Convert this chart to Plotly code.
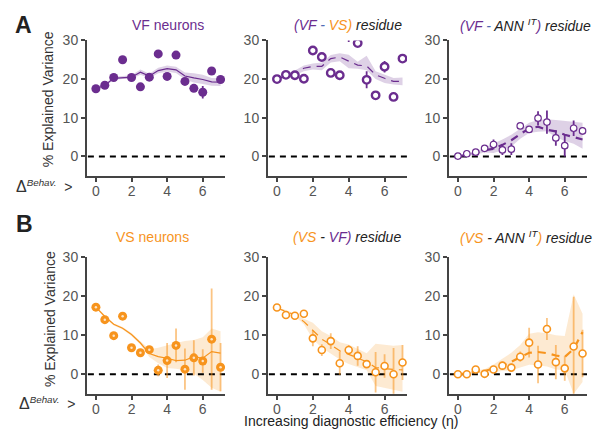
import plotly.graph_objects as go

# ---------------- data ----------------
eta = [0, 0.5, 1, 1.5, 2, 2.5, 3, 3.5, 4, 4.5, 5, 5.5, 6, 6.5, 7]
x_ticks = [0, 2, 4, 6]
y_ticks = [0, 10, 20, 30]

# Row A
vf_neu = [17.5, 18.4, 20.4, 25.0, 20.4, 18.0, 20.5, 26.5, 20.7, 26.2, 19.4, 17.6, 16.6, 22.1, 19.9]
vf_neu_err = [0.4, 0.4, 0.4, 0.4, 0.4, 0.4, 0.4, 0.4, 0.4, 0.8, 0.8, 0.8, 1.6, 0.5, 0.5]
vf_neu_fit = [17.5, 18.4, 20.2, 20.4, 20.5, 21.8, 20.8, 22.2, 22.7, 22.4, 20.8, 20.3, 19.9, 19.3, 19.2]
vf_neu_lo = [17.2, 18.1, 19.8, 20.0, 20.0, 21.1, 20.2, 21.5, 21.9, 21.6, 19.9, 19.1, 18.7, 18.3, 18.2]
vf_neu_hi = [17.8, 18.7, 20.6, 20.8, 21.0, 22.5, 21.4, 22.9, 23.5, 23.2, 21.7, 21.5, 21.1, 20.3, 20.2]

vf_res = [20.0, 21.1, 21.0, 20.1, 27.4, 25.7, 21.6, 21.0, 32.0, 29.3, 19.8, 15.8, 23.2, 15.4, 25.3]
vf_res_err = [0.4, 0.4, 0.4, 0.4, 0.5, 1.0, 0.5, 0.5, 2.4, 0.5, 2.2, 0.5, 1.5, 0.5, 0.5]
vf_res_fit = [20.0, 20.8, 21.6, 22.8, 23.3, 23.3, 25.3, 25.7, 24.6, 23.6, 23.4, 21.1, 20.2, 19.4, 19.4]
vf_res_lo = [19.6, 20.3, 21.0, 22.0, 22.5, 22.3, 24.3, 24.6, 22.8, 22.7, 22.3, 20.0, 19.0, 18.6, 18.4]
vf_res_hi = [20.4, 21.3, 22.2, 23.5, 24.0, 24.3, 26.2, 26.7, 26.3, 24.5, 26.0, 22.0, 21.2, 20.3, 20.4]

vf_ann = [0.1, 0.7, 1.1, 2.1, 3.1, 1.7, 1.9, 7.9, 7.0, 9.9, 8.9, 4.8, 2.8, 7.3, 6.6]
vf_ann_err = [0.2, 0.3, 0.3, 0.3, 1.3, 1.3, 1.5, 0.4, 0.6, 1.8, 3.0, 2.0, 2.8, 2.0, 1.0]
vf_ann_fit = [0.0, 0.4, 0.9, 1.6, 2.0, 3.0, 4.2, 5.8, 7.2, 7.7, 6.9, 6.5, 5.6, 5.0, 4.4]
vf_ann_lo = [0.0, 0.2, 0.5, 1.0, 0.9, 1.6, 2.6, 4.6, 6.1, 6.4, 6.5, 5.0, 4.0, 3.3, 2.0]
vf_ann_hi = [0.1, 0.6, 1.3, 2.3, 3.2, 4.4, 5.6, 7.2, 8.7, 9.4, 9.6, 9.4, 9.2, 8.9, 8.7]

# Row B
vs_neu = [17.2, 14.0, 9.9, 14.9, 6.8, 5.5, 6.3, 1.0, 3.5, 7.4, 1.3, 4.2, 3.4, 9.0, 1.8]
vs_neu_err = [0.3, 0.3, 0.3, 0.3, 0.3, 0.3, 0.5, 1.5, 4.5, 4.3, 5.3, 4.5, 3.0, 13.0, 6.2]
vs_neu_fit = [17.2, 14.8, 12.8, 11.8, 10.2, 8.0, 5.3, 4.5, 4.1, 3.5, 3.6, 4.5, 4.1, 5.8, 5.4]
vs_neu_lo = [16.9, 14.5, 12.5, 11.5, 9.8, 7.6, 4.4, 2.8, 1.6, 1.4, 1.0, 0.2, -1.5, -3.5, -4.5]
vs_neu_hi = [17.5, 15.1, 13.1, 12.1, 10.6, 8.6, 6.4, 6.8, 7.5, 8.0, 8.5, 8.8, 9.5, 11.7, 11.0]

vs_res = [17.1, 15.2, 15.0, 15.5, 9.2, 6.2, 8.5, 2.8, 6.2, 4.7, 2.6, 0.5, 2.1, 0.0, 3.0]
vs_res_err = [0.3, 0.3, 0.3, 0.3, 2.0, 1.5, 2.0, 3.0, 1.3, 2.5, 1.0, 5.2, 3.0, 6.7, 4.5]
vs_res_fit = [17.0, 16.2, 15.2, 13.5, 11.2, 9.0, 7.6, 6.0, 5.1, 4.2, 3.2, 1.7, 1.4, 1.2, 1.1]
vs_res_lo = [16.8, 15.9, 14.9, 12.8, 9.0, 6.8, 5.2, 3.8, 2.6, 1.8, 1.0, -3.0, -3.5, -4.0, -4.5]
vs_res_hi = [17.2, 16.5, 15.5, 14.2, 13.2, 11.0, 9.8, 8.2, 7.6, 6.6, 5.4, 7.8, 7.5, 7.3, 7.5]

vs_ann = [0.0, 0.0, 1.2, 0.1, 1.2, 2.2, 1.7, 4.5, 8.1, 2.5, 11.6, 3.1, 1.5, 7.1, 5.3]
vs_ann_err = [0.2, 0.2, 0.5, 0.3, 0.5, 1.0, 1.0, 1.3, 3.8, 4.8, 2.8, 4.4, 3.2, 12.8, 6.1]
vs_ann_fit = [0.0, 0.2, 0.7, 0.8, 1.5, 2.2, 3.2, 4.4, 5.5, 5.7, 5.4, 4.8, 4.4, 6.5, 10.8]
vs_ann_lo = [-0.1, 0.0, 0.3, 0.3, 0.5, 0.8, 1.0, 1.7, 2.4, 2.3, 2.0, 1.2, 1.0, -5.0, -2.0]
vs_ann_hi = [0.1, 0.4, 1.0, 1.3, 2.5, 4.0, 5.5, 7.5, 10.4, 10.8, 10.5, 10.0, 9.8, 20.5, 15.5]

# ---------------- style ----------------
PURPLE = "#6b2d8f"
ORANGE = "#f7941d"
PURPLE_BAND = "rgba(107,45,143,0.22)"
ORANGE_BAND = "rgba(247,148,29,0.20)"
ORANGE_ERR = "rgba(247,148,29,0.55)"
AXC = "#444444"
FONT = "Arial, Liberation Sans, sans-serif"
W, H = 594, 431

xdom = [[87 / W, 225 / W], [268 / W, 407 / W], [449 / W, 587 / W]]
ydom = [[1 - 171 / H, 1 - 33 / H], [1 - 393 / H, 1 - 254 / H]]

fig = go.Figure()

panels = [
    (0, 0, vf_neu, vf_neu_err, vf_neu_fit, vf_neu_lo, vf_neu_hi, PURPLE, PURPLE_BAND, "filled", "solid", 1.2, PURPLE),
    (0, 1, vf_res, vf_res_err, vf_res_fit, vf_res_lo, vf_res_hi, PURPLE, PURPLE_BAND, "open_thick", "8px,6px", 1.2, PURPLE),
    (0, 2, vf_ann, vf_ann_err, vf_ann_fit, vf_ann_lo, vf_ann_hi, PURPLE, PURPLE_BAND, "open_thin", "8px,6px", 2.2, PURPLE),
    (1, 0, vs_neu, vs_neu_err, vs_neu_fit, vs_neu_lo, vs_neu_hi, ORANGE, ORANGE_BAND, "filled", "solid", 1.2, ORANGE_ERR),
    (1, 1, vs_res, vs_res_err, vs_res_fit, vs_res_lo, vs_res_hi, ORANGE, ORANGE_BAND, "open_mid", "8px,6px", 1.2, ORANGE_ERR),
    (1, 2, vs_ann, vs_ann_err, vs_ann_fit, vs_ann_lo, vs_ann_hi, ORANGE, ORANGE_BAND, "open_mid", "8px,6px", 2.2, ORANGE_ERR),
]

for (r, c, yv, ev, fit, lo, hi, col, band, kind, dash, lw, ecol) in panels:
    idx = r * 3 + c + 1
    xa = "x" if idx == 1 else f"x{idx}"
    ya = "y" if idx == 1 else f"y{idx}"
    fig.add_trace(go.Scatter(x=eta + eta[::-1], y=hi + lo[::-1], fill="toself",
                             fillcolor=band, line=dict(width=0), mode="lines",
                             hoverinfo="skip", showlegend=False, xaxis=xa, yaxis=ya))
    fig.add_trace(go.Scatter(x=[-0.45, 7.25], y=[0, 0], mode="lines",
                             line=dict(color="black", width=2, dash="6px,5px"),
                             showlegend=False, xaxis=xa, yaxis=ya, hoverinfo="skip"))
    fig.add_trace(go.Scatter(x=eta, y=fit, mode="lines",
                             line=dict(color=col, width=lw, dash=dash),
                             showlegend=False, xaxis=xa, yaxis=ya))
    if kind == "filled":
        mk = dict(color=col, size=9, line=dict(width=0))
    elif kind == "open_thick":
        mk = dict(color="white", size=7.5, line=dict(color=col, width=2.4))
    elif kind == "open_thin":
        mk = dict(color="white", size=6.5, line=dict(color=col, width=1.2))
    else:
        mk = dict(color="white", size=7, line=dict(color=col, width=1.6))
    fig.add_trace(go.Scatter(x=eta, y=yv, mode="markers", marker=mk,
                             error_y=dict(type="data", array=ev, visible=True,
                                          color=ecol, thickness=1.8, width=0),
                             showlegend=False, xaxis=xa, yaxis=ya))
    if kind == "filled" and col == ORANGE:
        fig.add_trace(go.Scatter(x=eta, y=yv, mode="markers",
                                 marker=dict(color="rgba(255,255,255,0.75)", size=2.5),
                                 showlegend=False, xaxis=xa, yaxis=ya, hoverinfo="skip"))

axis_common = dict(showline=True, linecolor=AXC, linewidth=2, ticks="outside",
                   ticklen=4, tickwidth=2, tickcolor=AXC, showgrid=False,
                   zeroline=False, tickfont=dict(size=14, color="#555555", family=FONT))

layout_axes = {}
for r in range(2):
    for c in range(3):
        idx = r * 3 + c + 1
        xk = "xaxis" if idx == 1 else f"xaxis{idx}"
        yk = "yaxis" if idx == 1 else f"yaxis{idx}"
        ya = "y" if idx == 1 else f"y{idx}"
        xa = "x" if idx == 1 else f"x{idx}"
        layout_axes[xk] = dict(axis_common, domain=xdom[c], anchor=ya,
                               range=[-0.5, 7.25], tickvals=x_ticks,
                               ticklabelstandoff=-3)
        layout_axes[yk] = dict(axis_common, domain=ydom[r], anchor=xa,
                               range=[-5, 30], tickvals=y_ticks)

fig.update_layout(width=W, height=H, margin=dict(l=0, r=0, t=0, b=0),
                  paper_bgcolor="white", plot_bgcolor="white",
                  font=dict(family=FONT, size=14, color="#222222"),
                  **layout_axes)

P = PURPLE
O = ORANGE
BL = "#4f6bb5"


def ann(text, px, py, size=14, color="#222222", xanchor="center", angle=0):
    fig.add_annotation(text=text, x=px / W, y=1 - py / H, xref="paper", yref="paper",
                       showarrow=False, xanchor=xanchor, yanchor="middle",
                       font=dict(size=size, color=color, family=FONT), textangle=angle)


ann("<b>A</b>", 23, 17, size=23)
ann("<b>B</b>", 24, 220, size=23)

ann("VF neurons", 168, 17, color=P)
ann(f'<i><span style="color:{P}">(VF</span> <span style="color:{BL}">-</span> '
    f'<span style="color:{O}">VS)</span> residue</i>', 348, 17)
ann(f'<i><span style="color:{P}">(VF</span> <span style="color:{BL}">-</span> ANN <sup>IT</sup>'
    f'<span style="color:{P}">)</span> residue</i>', 458, 17, xanchor="left")

ann("VS neurons", 152, 233, color=O)
ann(f'<i><span style="color:{O}">(VS</span> - <span style="color:{P}">VF)</span> residue</i>',
    347, 233)
ann(f'<i><span style="color:{O}">(VS</span> - ANN <sup>IT</sup>'
    f'<span style="color:{O}">)</span> residue</i>', 458, 233, xanchor="left")

ann("% Explained Variance", 48, 93, angle=-90, color="#333333")
ann("% Explained Variance", 50, 317, angle=-90, color="#333333")

delta_lbl = '<span style="font-size:16px">Δ</span><sup><i>Behav.</i></sup>&nbsp;&nbsp;>'
ann(delta_lbl, 14, 181, xanchor="left", color="#333333")
ann(delta_lbl, 17, 402, xanchor="left", color="#333333")

ann("Increasing diagnostic efficiency (η)", 351, 421, color="#222222")

fig.write_html("out.html", config={"displayModeBar": False},
               post_script="document.body.style.margin='0';document.body.style.padding='0';")
